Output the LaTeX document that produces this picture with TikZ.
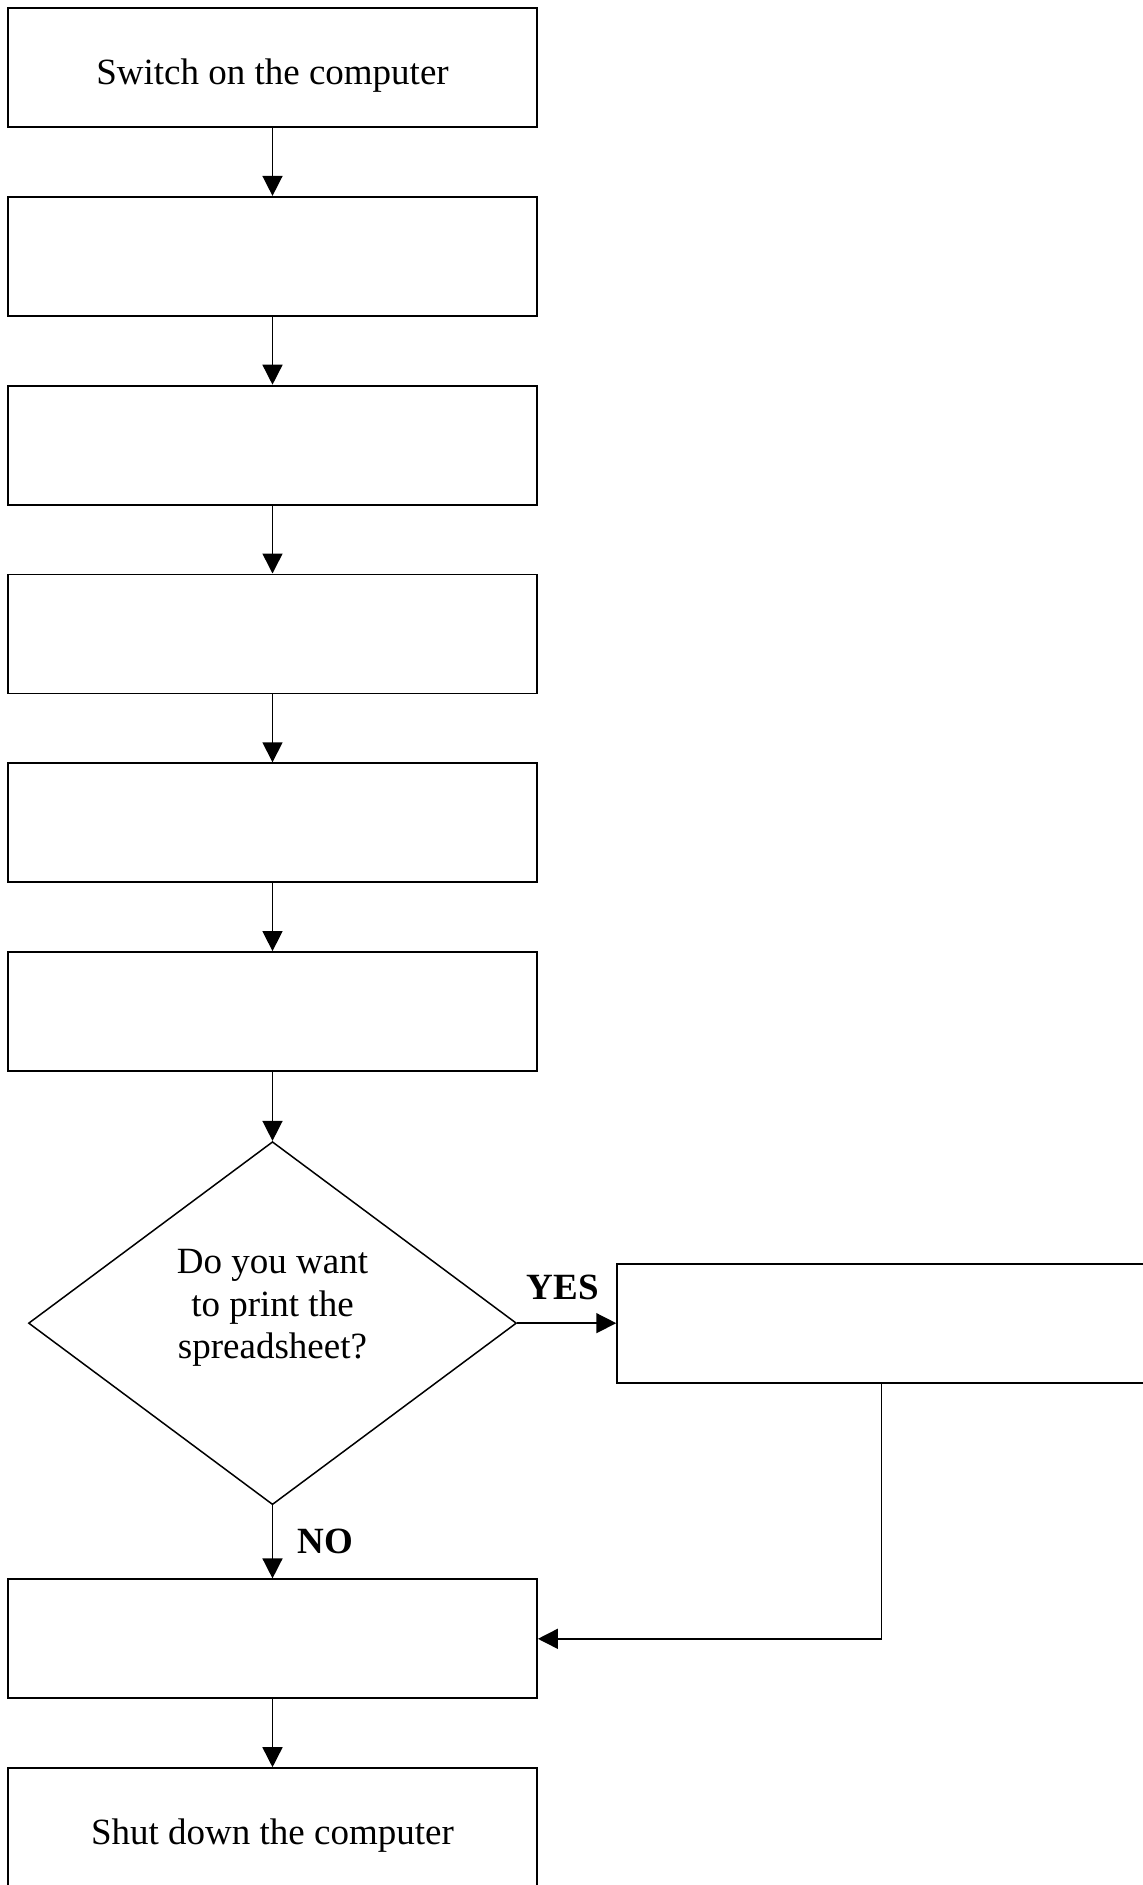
\documentclass[tikz,border=0pt]{standalone}
\usepackage{fontspec}
\setmainfont{Liberation Serif}
\usetikzlibrary{arrows.meta,positioning,shapes.geometric}
\tikzset{
  box/.style={draw,line width=0.9pt,minimum width=264.5pt,minimum height=59.5pt,
              inner sep=0pt,text height=20pt,text depth=3.3pt,
              font=\fontsize{18.5}{21.3}\selectfont},
  dec/.style={draw,diamond,line width=0.75pt,minimum width=244pt,
              minimum height=181.5pt,inner sep=0pt},
  fl/.style={-{Triangle[length=10pt,width=10pt]},line width=0.75pt},
  ans/.style={font=\fontsize{18.5}{21.3}\selectfont\bfseries},
}

\begin{document}
\begin{tikzpicture}[node distance=34pt]
    \useasboundingbox (0,0) rectangle (571pt,-942.5pt);
    % --- main column (top to bottom) ---
    \node[box] (on) at (136.25pt,-33.75pt) {Switch on the computer};
    \node[box,below=of on] (b2) {};
    \node[box,below=of b2] (b3) {};
    \node[box,below=of b3] (b4) {};
    \node[box,below=of b4] (b5) {};
    \node[box,below=of b5] (b6) {};
    \node[dec,below=34.5pt of b6] (ask) {};
    \node[align=center,font=\fontsize{18.5}{21.3}\selectfont] (askq)
      at ([yshift=7.5pt]ask.center) {Do you want\\to print the\\spreadsheet?};
    \node[box,below=36.5pt of ask] (after) {};
    \node[box,below=of after] (off) {Shut down the computer};
    \foreach \a/\b in {on/b2,b2/b3,b3/b4,b4/b5,b5/b6,b6/ask,after/off} \draw[fl] (\a)--(\b);
    % --- decision branches ---
    \node[box,right=49.5pt of ask] (print) {};
    \draw[fl] (ask.east) -- node[above=8pt,xshift=-2pt,ans] (yes) {YES} (print.west);
    \draw[fl] (ask.south) -- node[right=9pt,ans] (no) {NO} (after.north);
    \draw[fl] (print.south) |- (after.east);
\end{tikzpicture}
\end{document}
